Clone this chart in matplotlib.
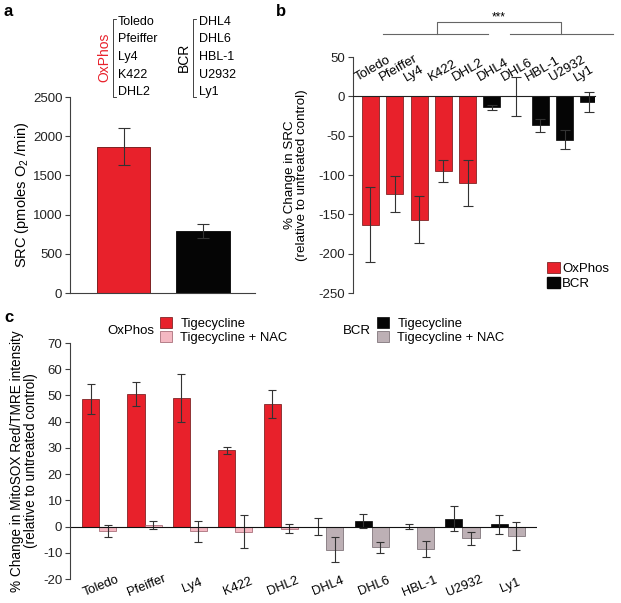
import matplotlib
matplotlib.use('Agg')
import matplotlib.pyplot as plt
from matplotlib.patches import Patch
import numpy as np

plt.rcParams['font.family'] = ['Liberation Sans', 'DejaVu Sans']
plt.rcParams['axes.linewidth'] = 0.8
plt.rcParams['axes.unicode_minus'] = False  # plain hyphen like the original

RED = '#e8212b'
PINK = '#f4b8c2'
MAUVE = '#bdb0b5'
BLACK = '#050505'
AXC = '#404040'
ERRC = '#333333'

# panel a
groups_a = ['OxPhos', 'BCR']
src_a = [1865, 790]
src_a_err = [235, 90]
oxphos_lines = ['Toledo', 'Pfeiffer', 'Ly4', 'K422', 'DHL2']
bcr_lines = ['DHL4', 'DHL6', 'HBL-1', 'U2932', 'Ly1']

# panel b
lines_b = oxphos_lines + bcr_lines
src_change = [-163, -124, -157, -95, -110, -14, 0, -37, -55, -7]
src_change_err = [48, 23, 30, 14, 29, 3, 25, 8, 12, 13]

# panel c
tig = [48.8, 50.6, 49.0, 29.1, 46.6, 0.0, 2.2, 0.0, 3.0, 0.8]
tig_err = [5.7, 4.7, 9.2, 1.4, 5.3, 3.2, 2.6, 1.0, 4.8, 3.6]
tig_nac = [-1.8, 0.7, -1.7, -2.0, -0.9, -8.8, -7.8, -8.6, -4.4, -3.6]
tig_nac_err = [2.3, 1.6, 4.0, 6.3, 1.7, 4.7, 2.1, 3.0, 2.5, 5.2]

W, H = 621, 603
fig = plt.figure(figsize=(W / 100, H / 100), dpi=100)

TICK_FS = 9.5
LAB_FS = 9.8


def px(x, y):
    return x / W, 1 - y / H


def box(x0, y0, x1, y1):
    return [x0 / W, 1 - y1 / H, (x1 - x0) / W, (y1 - y0) / H]


def style_left(ax):
    for s in ['top', 'right']:
        ax.spines[s].set_visible(False)
    for s in ['left', 'bottom']:
        ax.spines[s].set_color(AXC)
    ax.tick_params(axis='y', direction='out', length=3.5, width=0.8, colors=AXC,
                   labelcolor='#222222', labelsize=TICK_FS, pad=2)


# ---------------- a ----------------
axa = fig.add_axes(box(70, 97, 255, 293))
style_left(axa)
xa = np.arange(len(groups_a))
axa.bar(xa, src_a, width=0.667, color=[RED, BLACK], edgecolor=['#6a1010', BLACK],
        linewidth=0.6)
axa.errorbar(xa, src_a, yerr=src_a_err, fmt='none', ecolor=ERRC, elinewidth=0.8,
             capsize=4.5, capthick=0.8)
axa.set_xlim(-0.673, 1.654)
axa.set_ylim(0, 2500)
axa.set_yticks(np.arange(0, 2501, 500))
axa.set_xticks([])
axa.set_ylabel('SRC (pmoles O$_\\mathregular{2}$ /min)', fontsize=10.5)
axa.yaxis.set_label_coords(-0.212, 0.5)

name_y = [22, 39, 57, 75, 92]
for nm, yy in zip(oxphos_lines, name_y):
    fig.text(*px(118, yy), nm, fontsize=9, va='center', ha='left')
for nm, yy in zip(bcr_lines, name_y):
    fig.text(*px(199, yy), nm, fontsize=9, va='center', ha='left')
fig.text(*px(104, 57), 'OxPhos', fontsize=10, color=RED, rotation=90,
         va='center', ha='center')
fig.text(*px(184, 57), 'BCR', fontsize=10, rotation=90, va='center', ha='center')
for bx in [113, 193]:
    xs = [bx + 3, bx, bx, bx + 3]
    ys = [19, 19, 97, 97]
    fig.add_artist(plt.Line2D([x / W for x in xs], [1 - y / H for y in ys],
                              color='#222222', lw=0.6))

# ---------------- b ----------------
axb = fig.add_axes(box(353, 57, 595, 293))
style_left(axb)
xb = np.arange(len(lines_b))
cols_b = [RED] * 5 + [BLACK] * 5
edges_b = ['#6a1010'] * 5 + [BLACK] * 5
axb.bar(xb, src_change, width=0.70, color=cols_b, edgecolor=edges_b, linewidth=0.5)
axb.errorbar(xb, src_change, yerr=src_change_err, fmt='none', ecolor=ERRC,
             elinewidth=0.8, capsize=3.5, capthick=0.8)
axb.set_xlim(-0.72, 9.25)
axb.set_ylim(-250, 50)
axb.set_yticks(np.arange(-250, 51, 50))
axb.spines['bottom'].set_position(('data', 0))
axb.spines['bottom'].set_color('#222222')
axb.set_xticks([])
axb.set_ylabel('% Change in SRC\n(relative to untreated control)', fontsize=9.6,
               linespacing=1.05)
axb.yaxis.set_label_coords(-0.186, 0.5)
for i, nm in enumerate(lines_b):
    axb.text(i - 0.45, 16, nm, rotation=30, rotation_mode='anchor', ha='left',
             va='bottom', fontsize=9.5)

# significance bracket
gl = dict(color='#666666', lw=0.8, clip_on=False)
axb.plot([0.51, 4.84], [79, 79], **gl)
axb.plot([5.74, 9.98], [79, 79], **gl)
axb.plot([2.74, 2.74, 7.84, 7.84], [79, 94.5, 94.5, 79], **gl)
axb.text(5.3, 93, '***', ha='center', va='bottom', fontsize=8.5)

leg_b = [Patch(facecolor=RED, edgecolor='#6a1010', lw=0.5, label='OxPhos'),
         Patch(facecolor=BLACK, edgecolor=BLACK, label='BCR')]
fig.legend(handles=leg_b, loc='upper left', bbox_to_anchor=px(547, 262),
           bbox_transform=fig.transFigure, frameon=False, fontsize=9.5,
           handlelength=0.95, handleheight=0.95, handletextpad=0.2,
           labelspacing=0.12, borderpad=0, borderaxespad=0)

# ---------------- c ----------------
axc = fig.add_axes(box(70, 343, 537, 579))
style_left(axc)
axc.spines['bottom'].set_visible(False)
xc = np.arange(len(lines_b))
bw = 0.375
c1 = [RED] * 5 + [BLACK] * 5
e1 = ['#6a1010'] * 5 + [BLACK] * 5
c2 = [PINK] * 5 + [MAUVE] * 5
e2 = ['#9a5a66'] * 5 + ['#6e6268'] * 5
axc.bar(xc - bw / 2, tig, width=bw, color=c1, edgecolor=e1, linewidth=0.5)
axc.bar(xc + bw / 2, tig_nac, width=bw, color=c2, edgecolor=e2, linewidth=0.5)
axc.errorbar(xc - bw / 2, tig, yerr=tig_err, fmt='none', ecolor=ERRC,
             elinewidth=0.8, capsize=2.9, capthick=0.8)
axc.errorbar(xc + bw / 2, tig_nac, yerr=tig_nac_err, fmt='none', ecolor=ERRC,
             elinewidth=0.8, capsize=2.9, capthick=0.8)
axc.axhline(0, color='#111111', lw=0.8)
axc.set_xlim(-0.64, 9.64)
axc.set_ylim(-20, 70)
axc.set_yticks(np.arange(-20, 71, 10))
axc.set_xticks([])
for i, nm in enumerate(lines_b):
    axc.text(i + 0.05, -22.7, nm, rotation=22, rotation_mode='anchor',
             ha='center', va='center', fontsize=9.3, clip_on=False)
axc.set_ylabel('% Change in MitoSOX Red/TMRE intensity\n(relative to untreated control)',
               fontsize=LAB_FS, linespacing=1.05)
axc.yaxis.set_label_coords(-0.068, 0.5)

fig.text(*px(107, 331), 'OxPhos', fontsize=9.5, va='center', ha='left')
leg_c1 = [Patch(facecolor=RED, edgecolor='#6a1010', lw=0.5, label='Tigecycline'),
          Patch(facecolor=PINK, edgecolor='#9a5a66', lw=0.5, label='Tigecycline + NAC')]
fig.legend(handles=leg_c1, loc='upper left', bbox_to_anchor=px(160, 317),
           bbox_transform=fig.transFigure, frameon=False, fontsize=9.4,
           handlelength=0.95, handleheight=0.95, handletextpad=0.6,
           labelspacing=0.08, borderpad=0, borderaxespad=0)
fig.text(*px(343, 331), 'BCR', fontsize=9.5, va='center', ha='left')
leg_c2 = [Patch(facecolor=BLACK, edgecolor=BLACK, lw=0.5, label='Tigecycline'),
          Patch(facecolor=MAUVE, edgecolor='#6e6268', lw=0.5, label='Tigecycline + NAC')]
fig.legend(handles=leg_c2, loc='upper left', bbox_to_anchor=px(377, 317),
           bbox_transform=fig.transFigure, frameon=False, fontsize=9.4,
           handlelength=0.95, handleheight=0.95, handletextpad=0.6,
           labelspacing=0.08, borderpad=0, borderaxespad=0)

# panel letters
for lab, (x, y) in zip(['a', 'b', 'c'], [(4, 12), (276, 12), (4, 318)]):
    fig.text(*px(x, y), lab, fontsize=12, fontweight='bold', va='center', ha='left')

fig.savefig('out.png', dpi=100)
